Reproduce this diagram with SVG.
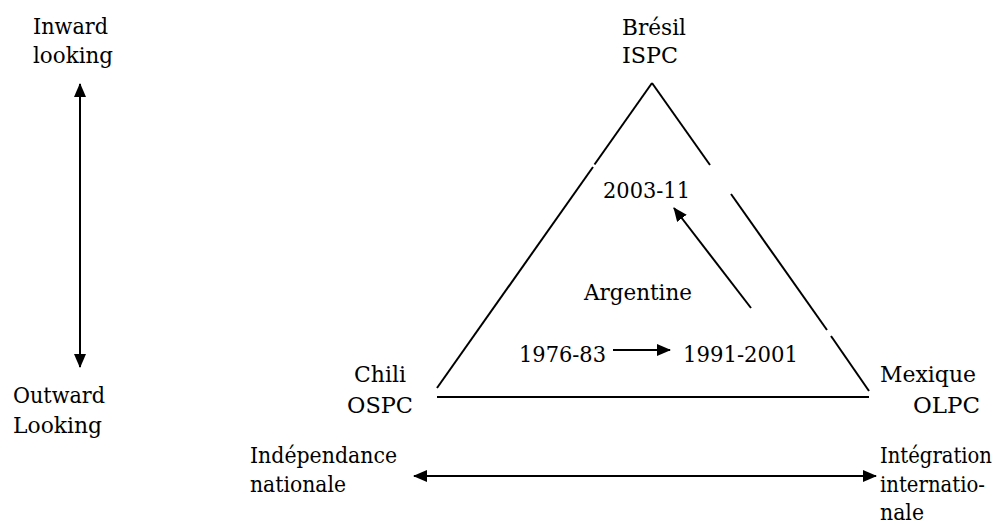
<svg xmlns="http://www.w3.org/2000/svg" width="1000" height="524" viewBox="0 0 1000 524">
<style>
text{font-family:"DejaVu Serif",serif;font-size:23px;fill:#000}
.ln{stroke:#000;stroke-width:2;fill:none}
</style>
<defs>
<marker id="ah" viewBox="0 0 14 12" refX="13" refY="6" markerWidth="14" markerHeight="12" markerUnits="userSpaceOnUse" orient="auto-start-reverse">
<path d="M0,0 L14,6 L0,12 Z" fill="#000"/>
</marker>
</defs>
<rect width="1000" height="524" fill="#fff"/>
<g id="triangle">
<line class="ln" x1="652" y1="83" x2="594.5" y2="164.5"/>
<line class="ln" x1="593" y1="167" x2="437" y2="388"/>
<line class="ln" x1="652" y1="83" x2="710" y2="165"/>
<line class="ln" x1="731" y1="194" x2="827" y2="330"/>
<line class="ln" x1="831" y1="336" x2="869" y2="391"/>
<line class="ln" x1="437" y1="397" x2="869" y2="397"/>
</g>
<g id="connectors">
<line class="ln" x1="80" y1="84" x2="80" y2="367" marker-start="url(#ah)" marker-end="url(#ah)"/>
<line class="ln" x1="414" y1="476" x2="876" y2="476" marker-start="url(#ah)" marker-end="url(#ah)"/>
<line class="ln" x1="613" y1="350" x2="670" y2="350" marker-end="url(#ah)"/>
<line class="ln" x1="751" y1="308" x2="674" y2="208" marker-end="url(#ah)"/>
</g>
<g id="inward"><text x="33" y="34" textLength="75" lengthAdjust="spacingAndGlyphs">Inward</text><text x="33" y="63" textLength="80" lengthAdjust="spacingAndGlyphs">looking</text></g>
<g id="outward"><text x="13" y="403" textLength="92" lengthAdjust="spacingAndGlyphs">Outward</text><text x="13" y="433" textLength="89" lengthAdjust="spacingAndGlyphs">Looking</text></g>
<g id="bresil"><text x="622" y="35" textLength="64" lengthAdjust="spacingAndGlyphs">Brésil</text><text x="622" y="63" textLength="56" lengthAdjust="spacingAndGlyphs">ISPC</text></g>
<g id="y2003"><text x="603" y="198" textLength="87" lengthAdjust="spacingAndGlyphs">2003-11</text></g>
<g id="argentine"><text x="584" y="300" textLength="108" lengthAdjust="spacingAndGlyphs">Argentine</text></g>
<g id="y1976"><text x="519" y="362" textLength="87" lengthAdjust="spacingAndGlyphs">1976-83</text></g>
<g id="y1991"><text x="683" y="362" textLength="115" lengthAdjust="spacingAndGlyphs">1991-2001</text></g>
<g id="chili"><text x="354" y="382" textLength="52" lengthAdjust="spacingAndGlyphs">Chili</text><text x="347" y="413" textLength="66" lengthAdjust="spacingAndGlyphs">OSPC</text></g>
<g id="mexique"><text x="880" y="382" textLength="96" lengthAdjust="spacingAndGlyphs">Mexique</text><text x="913" y="413" textLength="67" lengthAdjust="spacingAndGlyphs">OLPC</text></g>
<g id="independance"><text x="250" y="463" textLength="147" lengthAdjust="spacingAndGlyphs">Indépendance</text><text x="250" y="492" textLength="96" lengthAdjust="spacingAndGlyphs">nationale</text></g>
<g id="integration"><text x="880" y="463" textLength="112" lengthAdjust="spacingAndGlyphs">Intégration</text><text x="880" y="492" textLength="105" lengthAdjust="spacingAndGlyphs">internatio-</text><text x="880" y="520" textLength="44" lengthAdjust="spacingAndGlyphs">nale</text></g>
</svg>
